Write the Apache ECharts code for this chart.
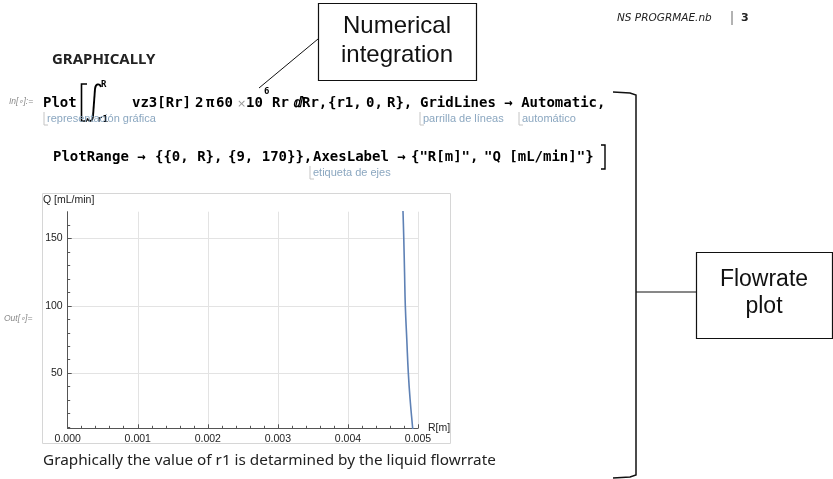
<!DOCTYPE html>
<html>
<head>
<meta charset="utf-8">
<script src="https://cdn.jsdelivr.net/npm/echarts@6/dist/echarts.min.js"></script>
<style>
  html, body { margin: 0; padding: 0; background: #fff; }
  #main { width: 833px; height: 479px; }
</style>
</head>
<body>
<div id="main"></div>
<script>
// values: r1 [m] and flowrate Q [mL/min]
var rValues = [0.004780, 0.004786, 0.004797, 0.004808, 0.004819, 0.004840, 0.004862, 0.004888, 0.004924, 0.004930];
var qValues = [180, 170, 150, 125, 100, 75, 50, 30, 9, 5];

var xRange = [0, 0.005];
var xStep = 0.001;
var yRange = [9, 170];
var yMajorTicks = [50, 100, 150];
var yMinorTicks = [10, 20, 30, 40, 50, 60, 70, 80, 90, 100, 110, 120, 130, 140, 150, 160];

var codeFont = 'bold 14px "DejaVu Sans Mono"';
var noteColor = '#8ba7c0';

var curve = [];
for (var i = 0; i < rValues.length; i++) {
    curve.push([rValues[i], qValues[i]]);
}

function txt(x, y, s, font, fill, align) {
    return {
        type: 'text', x: x, y: y, silent: true,
        style: { text: s, font: font, fill: fill || '#000', textAlign: align || 'left', textVerticalAlign: 'middle' }
    };
}
function pline(points, stroke, width) {
    return {
        type: 'polyline', silent: true,
        shape: { points: points },
        style: { stroke: stroke || '#000', lineWidth: width || 1, fill: null }
    };
}
function bez(x1, y1, cx1, cy1, cx2, cy2, x2, y2) {
    return {
        type: 'bezierCurve', silent: true,
        shape: { x1: x1, y1: y1, cpx1: cx1, cpy1: cy1, cpx2: cx2, cpy2: cy2, x2: x2, y2: y2 },
        style: { stroke: '#000', lineWidth: 1.9, fill: null }
    };
}
function note(x, y, s) {
    return [
        pline([[x, y - 7], [x, y + 6], [x + 4, y + 6]], '#c4c4c4', 1),
        txt(x + 3, y, s, '11px "Liberation Sans"', noteColor)
    ];
}

var graphics = [
    // header
    txt(617, 18, 'NS PROGRMAE.nb', 'italic 10.5px "DejaVu Sans"', '#222'),
    pline([[732, 11], [732, 25]], '#666', 1),
    txt(741, 18, '3', 'bold 11px "DejaVu Sans"', '#222'),
    txt(52, 60, 'GRAPHICALLY', 'bold 15px "Noto Sans"', '#222'),

    // callout: numerical integration
    { type: 'rect', silent: true, shape: { x: 318.5, y: 3.5, width: 158, height: 77 }, style: { fill: '#fff', stroke: '#111', lineWidth: 1.2 } },
    txt(397, 26, 'Numerical', '24px "Liberation Sans"', '#111', 'center'),
    txt(397, 55, 'integration', '24px "Liberation Sans"', '#111', 'center'),
    pline([[318, 39], [259, 88]], '#111', 1),

    // input line 1
    txt(9, 102, 'In[∘]:=', 'italic 8.5px "Liberation Sans"', '#8a8a8a'),
    txt(43, 103, 'Plot', codeFont),
    pline([[87, 84], [81.5, 84], [81.5, 121], [87, 121]], '#000', 1.6),
    bez(101, 87, 99.5, 83, 95.5, 83.5, 95, 89),
    pline([[95, 89], [93, 116]], '#000', 1.9),
    bez(93, 116, 92.5, 122, 89, 122, 87, 118.5),
    txt(101, 85, 'R', 'bold 9px "DejaVu Sans Mono"'),
    txt(97, 120, 'r1', 'bold 9px "DejaVu Sans Mono"'),
    txt(132, 103, 'vz3[Rr]', codeFont),
    txt(195, 103, '2', codeFont),
    txt(206, 103, 'π', codeFont),
    txt(216, 103, '60', codeFont),
    txt(237, 104, '×', '11px "DejaVu Sans"', '#999'),
    txt(246, 103, '10', codeFont),
    txt(264, 92, '6', 'bold 9px "DejaVu Sans Mono"'),
    txt(272, 103, 'Rr', codeFont),
    txt(294, 103, 'ⅆRr,', codeFont),
    txt(328, 103, '{r1,', codeFont),
    txt(366, 103, '0,', codeFont),
    txt(387, 103, 'R},', codeFont),
    txt(420, 103, 'GridLines → Automatic,', codeFont),

    // input line 2
    txt(53, 157, 'PlotRange →', codeFont),
    txt(155, 157, '{{0, R},', codeFont),
    txt(228, 157, '{9, 170}},', codeFont),
    txt(313, 157, 'AxesLabel →', codeFont),
    txt(411, 157, '{"R[m]",', codeFont),
    txt(484, 157, '"Q [mL/min]"}', codeFont),
    pline([[601, 145], [605, 145], [605, 169], [601, 169]], '#000', 1.4),

    // output frame and labels
    { type: 'rect', silent: true, shape: { x: 42.5, y: 193.5, width: 408, height: 250 }, style: { fill: null, stroke: '#d6d6d6', lineWidth: 1 } },
    txt(43, 200, 'Q [mL/min]', '10.5px "Liberation Sans"', '#222'),
    txt(428, 428, 'R[m]', '10.5px "Liberation Sans"', '#222'),
    txt(4, 319, 'Out[∘]=', 'italic 8.5px "Liberation Sans"', '#8a8a8a'),

    // closing text
    txt(43, 461, 'Graphically the value of r1 is detarmined by the liquid flowrrate', '15.3px "Noto Sans"', '#222'),

    // cell bracket and callout: flowrate plot
    pline([[613, 92], [630, 93], [636, 95], [636, 475], [630, 477], [613, 478]], '#111', 1.5),
    pline([[636, 292], [696, 292]], '#111', 1),
    { type: 'rect', silent: true, shape: { x: 696.5, y: 252.5, width: 136, height: 86 }, style: { fill: '#fff', stroke: '#111', lineWidth: 1.2 } },
    txt(764, 280, 'Flowrate', '23px "Liberation Sans"', '#111', 'center'),
    txt(764, 307, 'plot', '23px "Liberation Sans"', '#111', 'center')
];
graphics = graphics.concat(note(44, 119, 'representación gráfica'));
graphics = graphics.concat(note(420, 119, 'parrilla de líneas'));
graphics = graphics.concat(note(519, 119, 'automático'));
graphics = graphics.concat(note(310, 173, 'etiqueta de ejes'));

var chart = echarts.init(document.getElementById('main'), null, { renderer: 'canvas' });

var option = {
    backgroundColor: '#fff',
    animation: false,
    grid: { left: 67.7, top: 211.7, width: 350.3, height: 216.6 },
    xAxis: {
        type: 'value',
        min: xRange[0], max: xRange[1], interval: xStep,
        axisLine: { onZero: false, lineStyle: { color: '#555', width: 1 } },
        axisTick: { inside: true, length: 4, lineStyle: { color: '#555' } },
        minorTick: { show: true, splitNumber: 5, length: 2.5, lineStyle: { color: '#555' } },
        axisLabel: {
            fontFamily: 'Liberation Sans', fontSize: 10.5, color: '#222', margin: 5,
            formatter: function (v) { return v.toFixed(3); }
        },
        splitLine: { show: true, lineStyle: { color: '#e3e3e3', width: 1 } }
    },
    yAxis: [{
        type: 'value',
        min: yRange[0], max: yRange[1],
        axisLine: { show: true, onZero: false, lineStyle: { color: '#555', width: 1 } },
        axisTick: { show: true, inside: true, length: 4, customValues: yMajorTicks, lineStyle: { color: '#555' } },
        axisLabel: { customValues: yMajorTicks, fontFamily: 'Liberation Sans', fontSize: 10.5, color: '#222', margin: 5 },
        splitLine: { show: true, lineStyle: { color: '#e3e3e3', width: 1 } }
    }, {
        type: 'value', position: 'left',
        min: yRange[0], max: yRange[1],
        axisLine: { show: false },
        axisTick: { show: true, inside: true, length: 2.5, customValues: yMinorTicks, lineStyle: { color: '#555' } },
        axisLabel: { show: false },
        splitLine: { show: false }
    }],
    series: [{
        type: 'line',
        data: curve,
        smooth: true,
        showSymbol: false,
        clip: true,
        lineStyle: { color: '#5e81b5', width: 1.6 }
    }],
    graphic: graphics
};
chart.setOption(option);
</script>
</body>
</html>
